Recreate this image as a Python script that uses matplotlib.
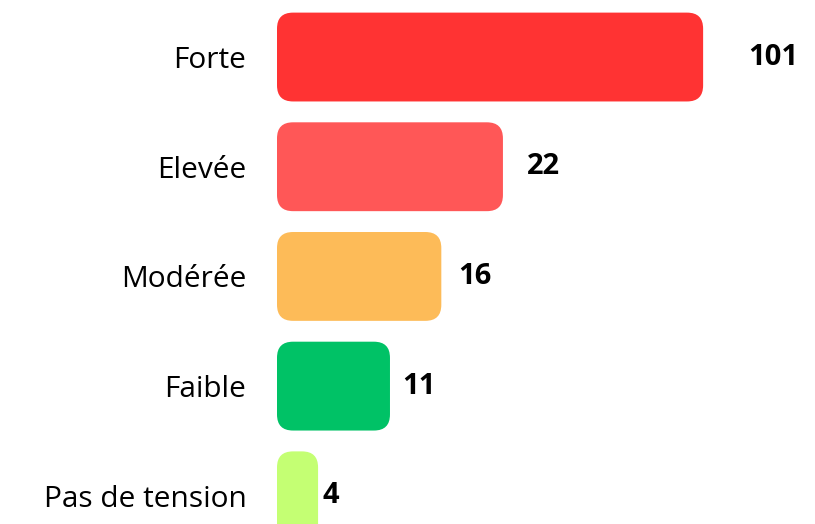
import numpy as np
import matplotlib
matplotlib.use("Agg")
import matplotlib.pyplot as plt
from matplotlib.patches import FancyBboxPatch
from matplotlib.transforms import IdentityTransform

plt.rcParams['font.family'] = ['Open Sans', 'DejaVu Sans']

# données
categories = ["Forte", "Elevée", "Modérée", "Faible", "Pas de tension"]
valeurs = [101, 22, 16, 11, 4]
couleurs = ["#FF3333", "#FF5757", "#FDBB58", "#00C266", "#C4FF73"]

# échelle linéaire jusqu'à 25, compressée au-delà (la barre "Forte" est écrasée)
T, K = 25.0, 0.217


def forward(x):
    x = np.asarray(x, dtype=float)
    return np.where(x <= T, x, T + (x - T) * K)


def inverse(y):
    y = np.asarray(y, dtype=float)
    return np.where(y <= T, y, T + (y - T) / K)


fig = plt.figure(figsize=(8.15, 5.24), dpi=100)
ax = fig.add_axes([277 / 815, 0, 538 / 815, 1])
ax.set_xscale('function', functions=(forward, inverse))

pos = np.arange(len(categories))
bars = ax.barh(pos, valeurs, height=0.81, color=couleurs)
ax.set_xlim(0, float(inverse(538 / 10.27)))
ax.set_ylim(4.257, -0.52)

ax.set_yticks(pos, categories, fontsize=21.5)
ax.tick_params(axis='y', length=0, pad=22)
ax.set_xticks([])
for s in ax.spines.values():
    s.set_visible(False)

# barres arrondies dessinées à partir des rectangles de matplotlib
fig.canvas.draw()
for b, c in zip(bars, couleurs):
    bb = b.get_window_extent()
    r = min(16, bb.width / 2)
    p = FancyBboxPatch((bb.x0, bb.y0), bb.width, bb.height,
                       boxstyle=f"round,pad=0,rounding_size={r}",
                       transform=IdentityTransform(), facecolor=c,
                       edgecolor='none', clip_on=False)
    fig.add_artist(p)
    b.set_visible(False)

# étiquettes de valeurs
for b, v, i in zip(bars, valeurs, pos):
    w = b.get_window_extent().width
    ax.annotate(str(v), xy=(v, i), xytext=(0.105 * w, 0),
                textcoords='offset pixels', ha='left', va='center',
                fontsize=21, fontweight='bold', color='black',
                annotation_clip=False)

fig.savefig("out.png", dpi=100)
